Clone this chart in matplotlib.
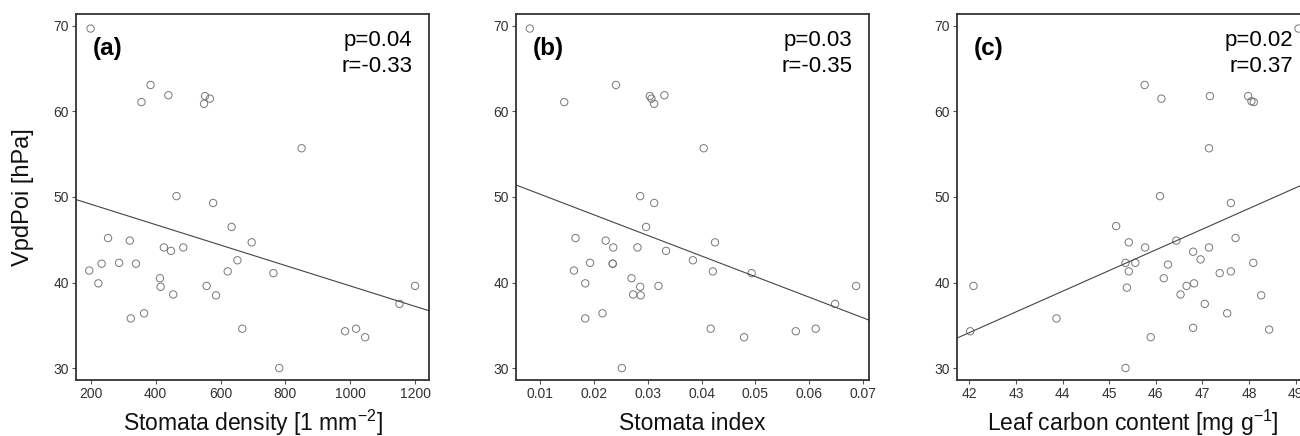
import numpy as np
import matplotlib.pyplot as plt

plt.rcParams['font.family'] = ['Liberation Sans', 'DejaVu Sans']
plt.rcParams['mathtext.fontset'] = 'custom'
plt.rcParams['mathtext.rm'] = 'Liberation Sans'

# VpdPoi [hPa] for panels (a) and (b), same samples
vpd_ab = [69.7, 63.1, 61.1, 61.9, 61.8, 61.5, 60.9, 55.7, 50.1, 49.3,
          46.5, 44.7, 45.2, 44.9, 44.1, 43.7, 44.1, 41.4, 42.2, 42.3,
          42.2, 39.9, 40.5, 39.5, 38.6, 39.6, 38.5, 41.3, 42.6, 41.1,
          35.8, 36.4, 34.6, 30.0, 34.3, 34.6, 33.6, 37.5, 39.6]

# (a) stomata density [1 mm-2]
stom_density = [199, 384, 356, 439, 552, 567, 549, 850, 464, 577,
                634, 696, 253, 320, 425, 447, 485, 195, 233, 287,
                339, 223, 413, 415, 454, 557, 586, 622, 652, 763,
                323, 364, 667, 781, 984, 1018, 1046, 1152, 1200]

# (b) stomata index
stom_index = [0.0081, 0.0241, 0.0145, 0.0331, 0.0304, 0.0307, 0.0312, 0.0404, 0.0286, 0.0312,
              0.0297, 0.0425, 0.0166, 0.0222, 0.0236, 0.0334, 0.0281, 0.0163, 0.0235, 0.0193,
              0.0235, 0.0184, 0.0270, 0.0286, 0.0273, 0.0320, 0.0287, 0.0421, 0.0384, 0.0493,
              0.0184, 0.0216, 0.0417, 0.0252, 0.0575, 0.0612, 0.0479, 0.0648, 0.0687]

# (c) leaf carbon content [mg g-1] and VpdPoi
leaf_c = [49.06, 45.76, 46.12, 47.16, 47.98, 48.05, 48.10, 47.14, 46.09, 47.61,
          45.15, 45.42, 47.71, 46.44, 45.77, 47.14, 46.80, 46.96, 45.56, 46.26,
          48.09, 45.35, 45.42, 47.37, 47.61, 46.17, 42.09, 45.38, 46.66, 46.82,
          46.53, 48.26, 47.05, 47.53, 43.87, 42.02, 46.80, 48.43, 45.89, 45.35]
vpd_c = [69.7, 63.1, 61.5, 61.8, 61.8, 61.2, 61.1, 55.7, 50.1, 49.3,
         46.6, 44.7, 45.2, 44.9, 44.1, 44.1, 43.6, 42.7, 42.3, 42.1,
         42.3, 42.3, 41.3, 41.1, 41.3, 40.5, 39.6, 39.4, 39.6, 39.9,
         38.6, 38.5, 37.5, 36.4, 35.8, 34.3, 34.7, 34.5, 33.6, 30.0]

# regression lines (slope, intercept) as drawn in the figure
fit_a = (-0.01194, 51.54)
fit_b = (-241.0, 52.74)
fit_c = (2.42, -67.5)

stats = ['p=0.04\nr=-0.33', 'p=0.03\nr=-0.35', 'p=0.02\nr=0.37']
tags = ['(a)', '(b)', '(c)']
xlabels = ['Stomata density [1 mm$^{-2}$]', 'Stomata index', 'Leaf carbon content [mg g$^{-1}$]']

fig = plt.figure(figsize=(13, 4.36), dpi=100)
W, H = 1300, 436
lefts = [76, 516, 956.7]
axes = [fig.add_axes([l / W, 1 - 380 / H, 353 / W, 366 / H]) for l in lefts]

panels = [
    (stom_density, vpd_ab, fit_a, (154, 1243), [200, 400, 600, 800, 1000, 1200], 5),
    (stom_index, vpd_ab, fit_b, (0.00554, 0.0711), [0.01, 0.02, 0.03, 0.04, 0.05, 0.06, 0.07], 8),
    (leaf_c, vpd_c, fit_c, (41.73, 49.3), list(range(42, 50)), 5),
]

for i, (ax, (x, y, fit, xl, xt, pad)) in enumerate(zip(axes, panels)):
    ax.scatter(x, y, s=28, facecolors='none', edgecolors='#777777', linewidths=0.7)
    xx = np.array(xl)
    ax.plot(xx, fit[0] * xx + fit[1], color='#444444', lw=0.8)
    ax.set_xlim(xl)
    ax.set_ylim(28.6, 71.4)
    ax.set_xticks(xt)
    ax.set_yticks([30, 40, 50, 60, 70])
    if i == 1:
        ax.set_xticklabels(['0.01', '0.02', '0.03', '0.04', '0.05', '0.06', '0.07'])
    ax.tick_params(labelsize=10, labelcolor='#333333', color='#555555',
                   length=3, width=0.8, pad=2)
    for s in ax.spines.values():
        s.set_linewidth(1.3)
        s.set_color('#333333')
    ax.set_xlabel(xlabels[i], fontsize=16.5, labelpad=pad, color='#111111')
    ax.text(0.048, 0.905, tags[i], transform=ax.transAxes, fontsize=17.5,
            fontweight='bold', va='center', ha='left')
    ax.text(0.952, 0.955, stats[i], transform=ax.transAxes, fontsize=16,
            va='top', ha='right', multialignment='right', linespacing=1.3)

axes[0].set_ylabel('VpdPoi [hPa]', fontsize=17, labelpad=14, color='#111111')

fig.savefig('out.png', dpi=100)
